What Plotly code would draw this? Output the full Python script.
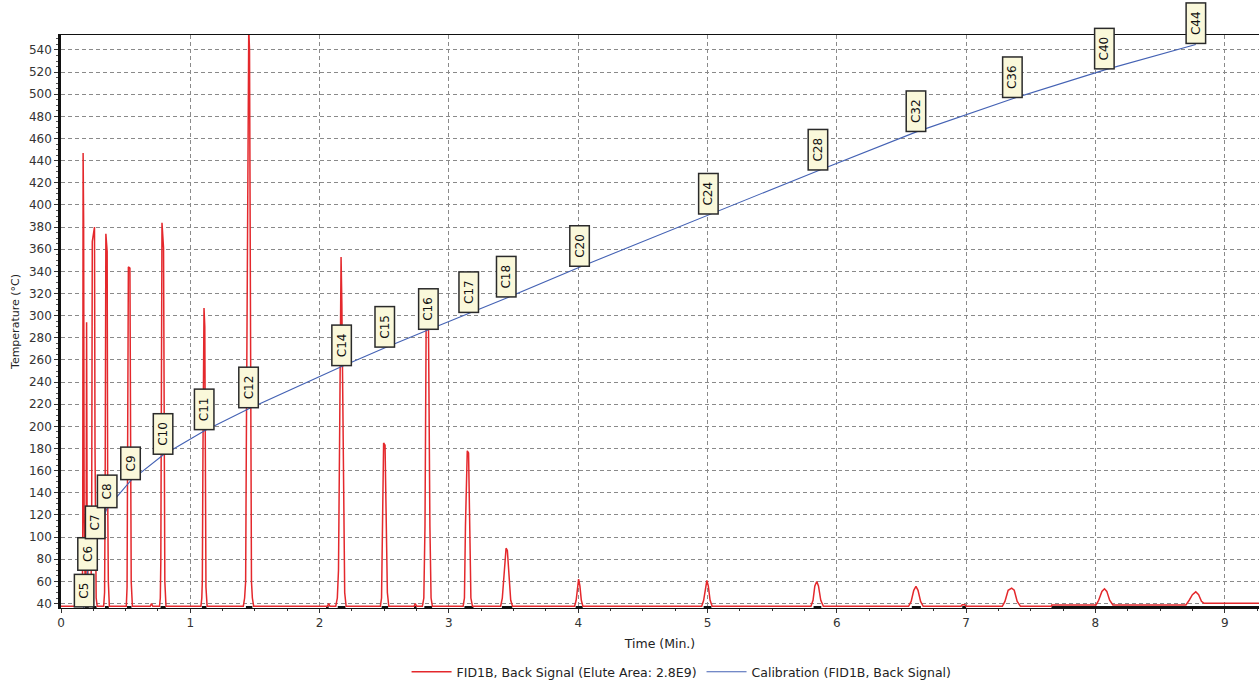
import plotly.graph_objects as go

# ---------------- data ----------------
# Calibration: retention time (min) vs boiling point (°C)
cal_labels = ["C5", "C6", "C7", "C8", "C9", "C10", "C11", "C12", "C14", "C15",
              "C16", "C17", "C18", "C20", "C24", "C28", "C32", "C36", "C40", "C44"]
cal_time = [0.175, 0.205, 0.263, 0.356, 0.539, 0.787, 1.110, 1.452, 2.171, 2.506,
            2.838, 3.153, 3.447, 4.014, 5.010, 5.855, 6.615, 7.359, 8.072, 8.776]
cal_temp = [36, 69, 98, 126, 151, 174, 196, 216, 254, 271,
            287, 302, 316, 344, 391, 431, 466, 496, 522, 545]

# FID signal (scaled onto temperature axis), vertices
sig_time = [
    0.000, 0.160, 0.165, 0.168, 0.171, 0.175, 0.179, 0.183, 0.188, 0.194, 0.198, 0.202, 0.206, 0.212, 0.218,
    0.226, 0.232, 0.237, 0.242, 0.259, 0.263, 0.267, 0.272, 0.280,
    0.330, 0.337, 0.341, 0.347, 0.357, 0.361, 0.366, 0.374,
    0.505, 0.511, 0.515, 0.521, 0.533, 0.538, 0.543, 0.552,
    0.690, 0.700, 0.710,
    0.762, 0.768, 0.772, 0.777, 0.781, 0.793, 0.797, 0.803, 0.812,
    1.082, 1.089, 1.093, 1.098, 1.106, 1.112, 1.116, 1.121, 1.130,
    1.410, 1.420, 1.428, 1.433, 1.445, 1.452, 1.458, 1.463, 1.467, 1.473, 1.480, 1.490,
    2.060, 2.070, 2.080,
    2.125, 2.137, 2.146, 2.154, 2.160, 2.166, 2.172, 2.178, 2.185, 2.194, 2.205,
    2.470, 2.479, 2.485, 2.495, 2.506, 2.515, 2.524, 2.535,
    2.730, 2.740, 2.750,
    2.795, 2.806, 2.815, 2.824, 2.842, 2.847, 2.853, 2.862, 2.872,
    3.110, 3.120, 3.128, 3.142, 3.152, 3.160, 3.170, 3.182,
    3.400, 3.413, 3.427, 3.442, 3.452, 3.466, 3.478, 3.492,
    3.972, 3.984, 3.995, 4.003, 4.013, 4.024, 4.036,
    4.955, 4.970, 4.985, 4.995, 5.006, 5.020, 5.036,
    5.800, 5.816, 5.830, 5.845, 5.858, 5.876, 5.896,
    6.555, 6.575, 6.595, 6.612, 6.628, 6.648, 6.668,
    6.960, 6.970, 6.990, 7.000,
    7.280, 7.300, 7.325, 7.352, 7.372, 7.395, 7.420,
    7.660, 7.662,
    8.005, 8.025, 8.050, 8.070, 8.088, 8.110, 8.135,
    8.700, 8.725, 8.750, 8.776, 8.798, 8.820, 8.840, 9.300,
]
sig_value = [
    37.6, 37.6, 48, 95, 447, 386, 120, 62, 48, 70, 294, 110, 55, 40, 37.6,
    37.6, 48, 110, 367, 380, 180, 70, 45, 37.6,
    37.6, 50, 125, 374, 358, 140, 60, 37.6,
    37.6, 55, 129, 344, 343, 135, 60, 37.6,
    37.6, 40, 37.6,
    37.6, 45, 78, 250, 384, 361, 140, 60, 37.6,
    37.6, 45, 60, 180, 307, 290, 114, 55, 37.6,
    37.6, 45, 60, 176, 446, 560, 540, 302, 170, 60, 45, 37.6,
    37.6, 40, 37.6,
    37.6, 45, 70, 180, 246, 353, 311, 250, 120, 50, 37.6,
    37.6, 45, 120, 185, 183, 110, 50, 37.6,
    37.6, 40, 37.6,
    37.6, 45, 110, 292, 292, 202, 110, 45, 37.6,
    37.6, 45, 110, 178, 176, 110, 45, 37.6,
    37.6, 45, 70, 90, 88, 60, 43, 37.6,
    37.6, 43, 58, 62, 56, 43, 37.6,
    37.6, 43, 57, 61, 56, 43, 37.6,
    37.6, 43, 56, 60, 56, 43, 37.6,
    37.6, 42, 52, 55.6, 52, 42, 37.6,
    37.6, 39, 39, 37.6,
    37.6, 42, 52, 54, 52, 42, 37.6,
    37.6, 38.8,
    38.8, 43, 51, 53.3, 51, 43, 38.8,
    38.8, 43, 48, 50.6, 48, 42, 40.2, 40.2,
]

# integration marks (start/end times of black bars on the baseline)
integ_start = [0.185, 0.245, 0.340, 0.510, 0.770, 1.090, 1.430, 2.050, 2.140, 2.480, 2.730,
               2.810, 3.120, 3.410, 3.980, 4.970, 5.820, 6.580, 6.970, 7.660]
integ_end = [0.215, 0.275, 0.370, 0.545, 0.810, 1.125, 1.480, 2.070, 2.200, 2.530, 2.750,
             2.870, 3.190, 3.490, 4.035, 5.030, 5.880, 6.650, 7.000, 9.300]
integ_level = 36.7

y_ticks = [40, 60, 80, 100, 120, 140, 160, 180, 200, 220, 240, 260, 280, 300,
           320, 340, 360, 380, 400, 420, 440, 460, 480, 500, 520, 540]
x_ticks = [0, 1, 2, 3, 4, 5, 6, 7, 8, 9]

signal_name = "FID1B, Back Signal (Elute Area: 2.8E9)"
cal_name = "Calibration (FID1B, Back Signal)"

# ---------------- figure ----------------
FONT = "DejaVu Sans"
fig = go.Figure()

ix, iy = [], []
for s, e in zip(integ_start, integ_end):
    ix += [s, e, None]
    iy += [integ_level, integ_level, None]
fig.add_trace(go.Scatter(x=ix, y=iy, mode="lines", showlegend=False, hoverinfo="skip",
                         line=dict(color="#111111", width=2.5)))

fig.add_trace(go.Scatter(x=sig_time, y=sig_value, mode="lines", name=signal_name,
                         line=dict(color="#E4282C", width=1.5)))
fig.add_trace(go.Scatter(x=cal_time, y=cal_temp, mode="lines", name=cal_name,
                         line=dict(color="#4462B4", width=1.1)))

for lab, t, v in zip(cal_labels, cal_time, cal_temp):
    fig.add_annotation(x=t, y=v, xref="x", yref="y", text=lab, showarrow=False,
                       textangle=-90, xanchor="center", yanchor="bottom",
                       width=8 * len(lab) + 13, height=16,
                       bgcolor="#FAF8DA", bordercolor="#2a2a2a", borderwidth=1.5, borderpad=1,
                       font=dict(family=FONT, size=12, color="#111111"))

fig.update_xaxes(range=[0, 9.265], tickmode="array", tickvals=x_ticks,
                 ticktext=[str(v) for v in x_ticks],
                 showgrid=True, gridcolor="#8a8a8a", griddash="4px,3px", gridwidth=1,
                 zeroline=False, showline=True, linecolor="#111111", linewidth=1, mirror=True,
                 ticks="outside", ticklen=4, tickcolor="#333333",
                 minor=dict(dtick=0.25, ticks="outside", ticklen=2, tickcolor="#333333", showgrid=False),
                 tickfont=dict(family=FONT, size=12, color="#333333"),
                 title=dict(text="Time (Min.)", font=dict(family=FONT, size=12.5, color="#222222"),
                            standoff=9))
fig.update_yaxes(range=[36, 553.5], tickmode="array", tickvals=y_ticks,
                 ticktext=[str(v) for v in y_ticks],
                 showgrid=True, gridcolor="#8a8a8a", griddash="4px,3px", gridwidth=1,
                 zeroline=False, showline=True, linecolor="#111111", linewidth=2.5,
                 ticks="outside", ticklen=4, tickcolor="#333333",
                 minor=dict(dtick=5, ticks="outside", ticklen=2, tickcolor="#555555", showgrid=False),
                 tickfont=dict(family=FONT, size=12, color="#333333"),
                 title=dict(text="Temperature (°C)", font=dict(family=FONT, size=11, color="#222222"),
                            standoff=8))

fig.update_layout(
    width=1259, height=684,
    margin=dict(l=61, r=0, t=35, b=76, pad=0, autoexpand=False),
    paper_bgcolor="white", plot_bgcolor="white",
    showlegend=True,
    legend=dict(orientation="h", x=0.518, xanchor="center", y=-0.112, yanchor="middle",
                font=dict(family=FONT, size=12.5, color="#222222"),
                bgcolor="rgba(0,0,0,0)", itemwidth=40),
)

fig.write_html("out.html", config={"displayModeBar": False},
               post_script="document.body.style.margin='0';")
